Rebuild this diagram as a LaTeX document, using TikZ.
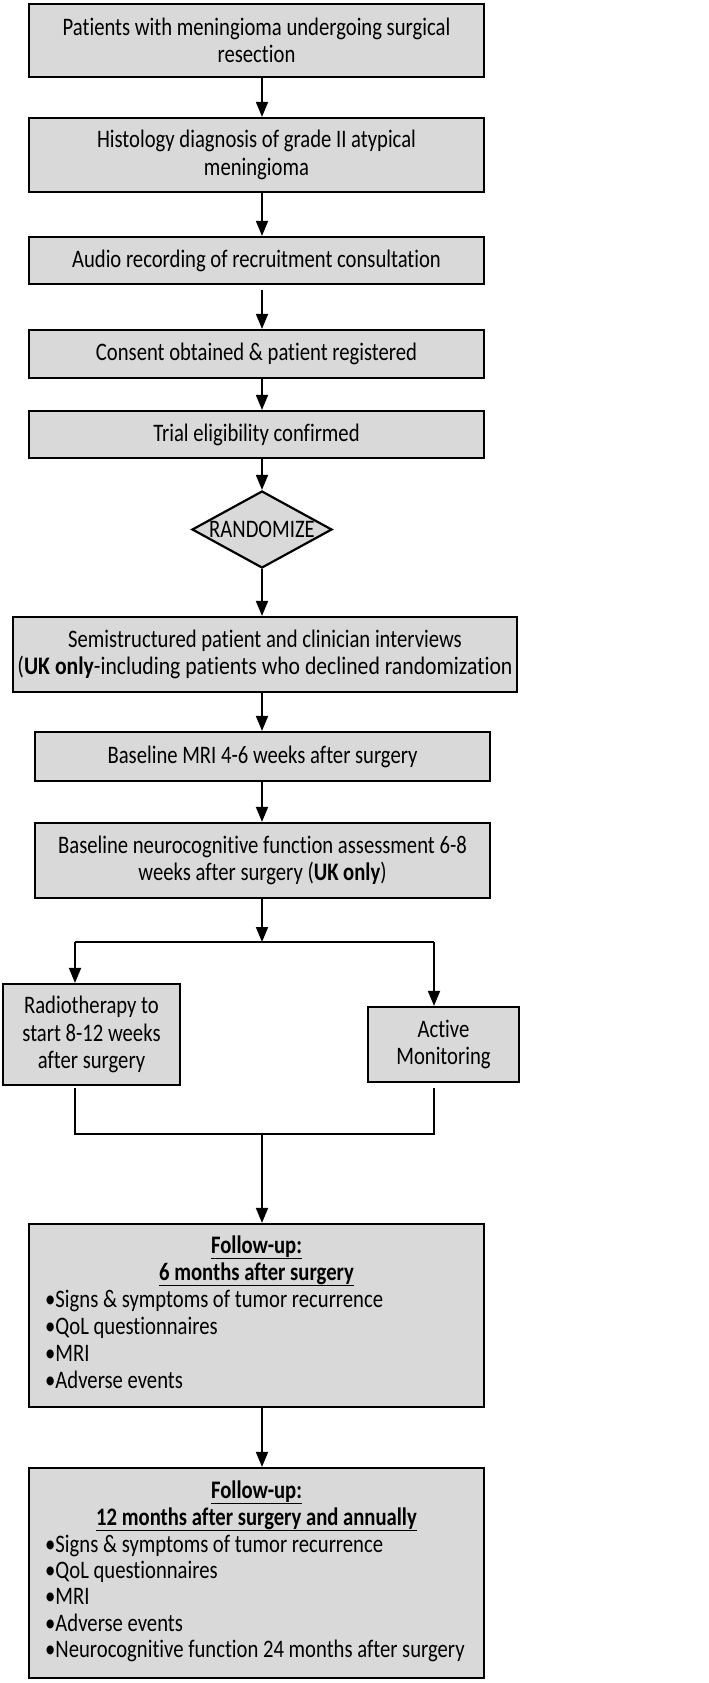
\documentclass[tikz,border=0pt]{standalone}
\usepackage{fontspec}
\setmainfont{Carlito}[FakeStretch=0.82, Ligatures=NoCommon]
\usetikzlibrary{arrows.meta,shapes.geometric}
\definecolor{boxgray}{HTML}{D9D9D9}
\newcommand{\mainsz}{\fontsize{25.2}{27.5}\selectfont}
\newcommand{\ulhead}[1]{\underline{\textbf{#1}}}
\begin{document}
\begin{tikzpicture}[x=1pt,y=-1pt,
  box/.style={draw=black, line width=2.2pt, fill=boxgray, inner sep=0pt, align=center, font=\mainsz},
  conn/.style={draw=black, line width=1.8pt},
  arr/.style={conn, -{Triangle[width=12pt,length=15pt]}},
  txt/.style={font=\mainsz, inner sep=0pt}]
\useasboundingbox[fill=white] (0,0) rectangle (709,1683);
% spine
\coordinate (spine) at (262,0);
% boxes
\node[box, minimum width=455pt, minimum height=73pt] (b1) at (256.5,40.5) {Patients with meningioma undergoing surgical\\resection};
\node[box, minimum width=455pt, minimum height=74pt] (b2) at (256.5,155) {Histology diagnosis of grade II atypical\\meningioma};
\node[box, minimum width=455pt, minimum height=47pt] (b3) at (256.5,260.5) {Audio recording of recruitment consultation};
\node[box, minimum width=455pt, minimum height=48pt] (b4) at (256.5,354) {Consent obtained \& patient registered};
\node[box, minimum width=455pt, minimum height=47pt] (b5) at (256.5,434.5) {Trial eligibility confirmed};
\node[diamond, draw=black, line width=2.2pt, fill=boxgray, inner sep=0pt, minimum width=140pt, minimum height=77pt] (rand) at (262,529.5) {};
\node[txt] (randt) at (rand.center) {RANDOMIZE};
\node[box, minimum width=504pt, minimum height=75pt] (b6) at (265,654.5) {Semistructured patient and clinician interviews\\\scalebox{1.05}[1]{(\textbf{UK only}-including patients who declined randomization}};
\node[box, minimum width=455pt, minimum height=49pt] (b7) at (262.5,756.5) {Baseline MRI 4-6 weeks after surgery};
\node[box, minimum width=455pt, minimum height=75pt] (b8) at (262.5,860.5) {Baseline neurocognitive function assessment 6-8\\weeks after surgery (\textbf{UK only})};
\node[box, minimum width=177pt, minimum height=101pt] (b9) at (91.5,1034.5) {Radiotherapy to\\start 8-12 weeks\\after surgery};
\node[box, minimum width=151pt, minimum height=75pt] (b10) at (443.5,1044.5) {Active\\Monitoring};
\node[box, minimum width=455pt, minimum height=183pt] (b11) at (256.5,1315.5) {};
\node[box, minimum width=455pt, minimum height=210pt] (b12) at (256.5,1573) {};
% follow-up 1 text
\node[txt, anchor=base] (f1h1) at (256.5,1253) {\ulhead{Follow-up:}};
\node[txt, anchor=base] (f1h2) at (256.5,1280) {\ulhead{6 months after surgery}};
\foreach \t [count=\i] in {Signs \& symptoms of tumor recurrence, QoL questionnaires, MRI, Adverse events}
  \node[txt, anchor=base west] (f1l\i) at (45,{1307+27*(\i-1)}) {\textbullet\t};
% follow-up 2 text
\node[txt, anchor=base] (f2h1) at (256.5,1498) {\ulhead{Follow-up:}};
\node[txt, anchor=base] (f2h2) at (256.5,1525) {\ulhead{12 months after surgery and annually}};
\foreach \t [count=\i] in {Signs \& symptoms of tumor recurrence, QoL questionnaires, MRI, Adverse events, Neurocognitive function 24 months after surgery}
  \node[txt, anchor=base west] (f2l\i) at (45,{1552+26.4*(\i-1)}) {\textbullet\t};
% connectors
\draw[arr] (b1.south -| spine) -- (b2.north -| spine);
\draw[arr] (b2.south -| spine) -- (b3.north -| spine);
\draw[arr] (b3.south -| spine) ++(0,5) -- (b4.north -| spine);
\draw[arr] (b4.south -| spine) -- (b5.north -| spine);
\draw[arr] (b5.south -| spine) -- (rand.north);
\draw[arr] (rand.south) -- (b6.north -| spine);
\draw[arr] (b6.south -| spine) -- (b7.north -| spine);
\draw[arr] (b7.south -| spine) -- (b8.north -| spine);
% split
\coordinate (split) at (262,942);
\coordinate (lx) at (75,942);
\coordinate (rx) at (434,942);
\draw[arr] (b8.south -| spine) -- (split);
\draw[conn] (lx) -- (rx);
\draw[arr] (lx) -- (lx |- b9.north);
\draw[arr] (rx) -- (rx |- b10.north);
% join
\coordinate (jl) at (75,1134);
\coordinate (jr) at (434,1134);
\coordinate (join) at (262,1134);
\coordinate (jls) at (75,1088);
\coordinate (jrs) at (434,1088);
\draw[conn] (jls) -- (jl) -- (jr) -- (jrs);
\draw[arr] (join) -- (b11.north -| join);
\draw[arr] (b11.south -| spine) -- (b12.north -| spine);
\end{tikzpicture}
\end{document}
